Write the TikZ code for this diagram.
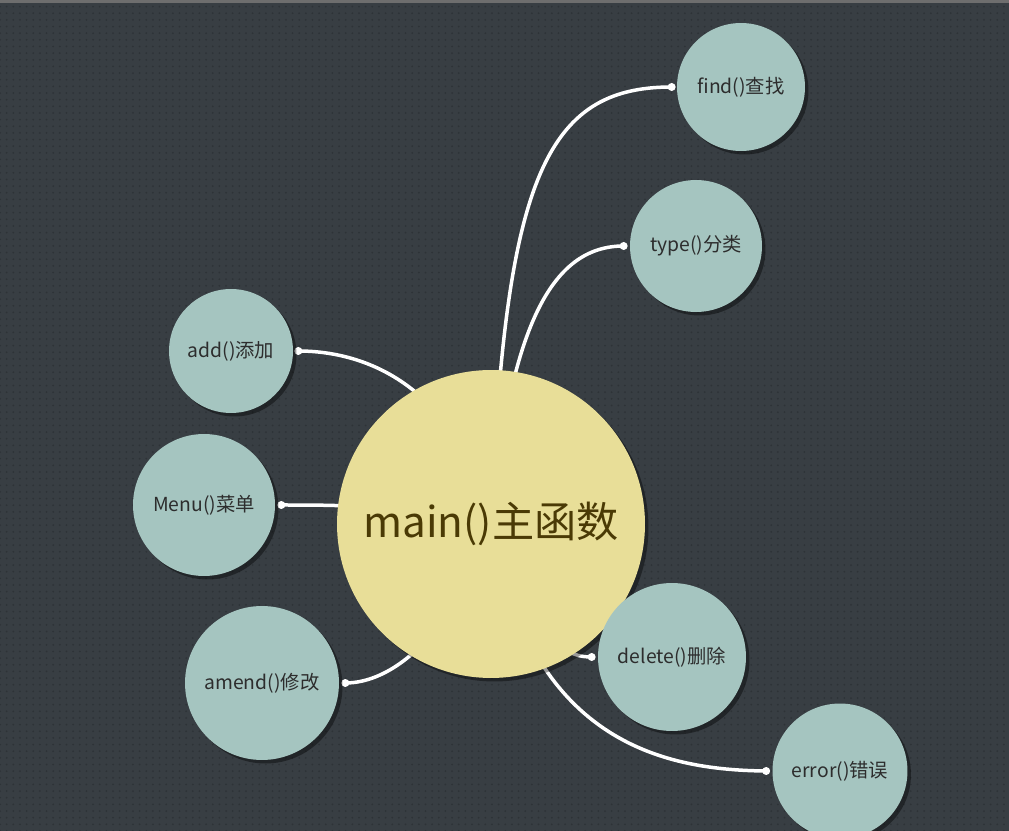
\documentclass[tikz,border=0pt]{standalone}
\usepackage{fontspec}
\setmainfont{Noto Sans CJK SC}
\usepackage{xcolor}
\usepackage{tikz}
\usetikzlibrary{positioning, shadows, patterns.meta, calc}
\definecolor{board}{RGB}{56,62,67}
\definecolor{speck}{RGB}{46,51,55}
\definecolor{rim}{RGB}{110,110,110}
\definecolor{sage}{RGB}{165,197,192}
\definecolor{straw}{RGB}{232,222,152}
\definecolor{ink}{RGB}{45,45,45}
\definecolor{umber}{RGB}{74,58,5}
\pgfdeclarelayer{bg}
\pgfdeclarelayer{wires}
\pgfsetlayers{bg,wires,main}

\begin{document}
\begin{tikzpicture}[x=0.02cm, y=-0.02cm,
  fn/.style={circle, fill=sage, text=ink, inner sep=0pt, font=\fontsize{11}{13}\selectfont,
    drop shadow={shadow xshift=0.07cm, shadow yshift=-0.07cm, fill=black, opacity=0.4}},
  hub/.style={fn, fill=straw, text=umber, font=\fontsize{24}{28}\selectfont},
  wire/.style={white, line width=0.07cm}]
\useasboundingbox (0,0) rectangle (1009,831);
\begin{pgfonlayer}{bg}
\fill[board] (0,0) rectangle (1009,831);
\fill[pattern={Dots[distance=0.133cm, radius=0.02cm]}, pattern color=speck] (0,0) rectangle (1009,831);
\fill[rim] (0,0) rectangle (1009,3);
\end{pgfonlayer}
% topics
\node[hub, minimum size=6.16cm] (main) at (491,524) {main()主函数};
\node[fn, minimum size=2.56cm] (find) at (741,87) {find()查找};
\node[fn, minimum size=2.64cm] (type) at (696,246) {type()分类};
\node[fn, minimum size=2.48cm] (add) at (231,351) {add()添加};
\node[fn, minimum size=2.84cm] (menu) at (204,505) {Menu()菜单};
\node[fn, minimum size=3.08cm] (amend) at (262,683) {amend()修改};
\node[fn, minimum size=2.96cm] (delete) at (672,657) {delete()删除};
\node[fn, minimum size=2.70cm] (error) at (840,771) {error()错误};
% wire ends
\coordinate (findEnd) at ([xshift=-0.1cm]find.west);
\coordinate (typeEnd) at ([xshift=-0.12cm]type.west);
\coordinate (addEnd) at ([xshift=0.1cm]add.east);
\coordinate (menuEnd) at ([xshift=0.12cm]menu.east);
\coordinate (amendEnd) at ([xshift=0.12cm]amend.east);
\coordinate (deleteEnd) at ([xshift=-0.12cm]delete.west);
\coordinate (errorEnd) at ([xshift=-0.12cm]error.west);
\begin{pgfonlayer}{wires}
\draw[wire] (main.center) .. controls (505,180) and (545,87) .. (findEnd);
\draw[wire] (main.center) .. controls (510,330) and (550,246) .. (typeEnd);
\draw[wire] (main.center) .. controls (455,380) and (360,351) .. (addEnd);
\draw[wire] (main.center) .. controls (400,505) and (340,505) .. (menuEnd);
\draw[wire] (main.center) .. controls (450,640) and (390,683) .. (amendEnd);
\draw[wire] (main.center) .. controls (540,650) and (570,657) .. (deleteEnd);
\draw[wire] (main.center) .. controls (530,740) and (660,770) .. (errorEnd);
\foreach \e in {findEnd, typeEnd, addEnd, menuEnd, amendEnd, deleteEnd, errorEnd}
  \fill[white] (\e) circle (0.08cm);
\end{pgfonlayer}
\end{tikzpicture}
\end{document}
